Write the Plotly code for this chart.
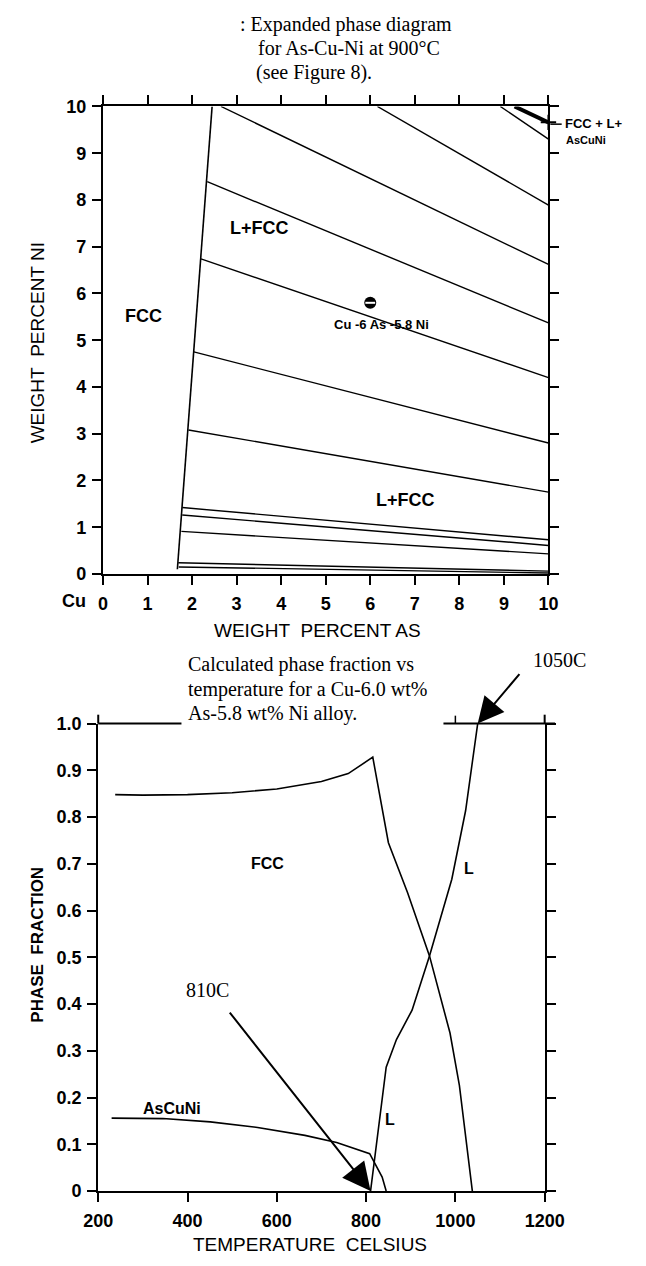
import plotly.graph_objects as go

W, H = 646, 1266

# ---------------- ternary section: As-Cu-Ni at 900 C ----------------
# FCC / L+FCC phase boundary (wt% As, wt% Ni)
boundary_as = [1.67, 2.45]
boundary_ni = [0.10, 10.0]

# tie lines: start (As, Ni) -> end (As, Ni)
tie_start_as = [2.65, 6.16, 8.92, 2.34, 2.20, 2.04, 1.92, 1.78, 1.78, 1.76, 1.69, 1.70]
tie_start_ni = [10.0, 10.0, 10.0, 8.39, 6.74, 4.75, 3.08, 1.42, 1.26, 0.91, 0.24, 0.15]
tie_end_as = [10.0] * 12
tie_end_ni = [6.62, 7.89, 9.30, 5.37, 4.20, 2.80, 1.75, 0.73, 0.61, 0.43, 0.06, 0.02]

# three-phase edge FCC + L + AsCuNi
tri_as = [9.24, 10.0]
tri_ni = [10.0, 9.66]

alloy_as, alloy_ni = [6.0], [5.8]

# ---------------- phase fraction vs temperature ----------------
fcc_t = [238, 300, 400, 500, 600, 700, 760, 815, 850, 893, 942, 988, 1009, 1023, 1038]
fcc_f = [0.848, 0.847, 0.848, 0.852, 0.860, 0.876, 0.893, 0.928, 0.745, 0.638, 0.503, 0.338, 0.226, 0.114, 0.0]

liq_t = [810, 815, 830, 845, 868, 903, 942, 967, 992, 1023, 1050]
liq_f = [0.0, 0.037, 0.156, 0.265, 0.324, 0.387, 0.503, 0.583, 0.667, 0.814, 1.0]

ascuni_t = [230, 345, 451, 557, 663, 734, 808, 822, 836, 845]
ascuni_f = [0.156, 0.155, 0.148, 0.136, 0.119, 0.104, 0.080, 0.056, 0.030, 0.0]

frac_ticks = [0, 0.1, 0.2, 0.3, 0.4, 0.5, 0.6, 0.7, 0.8, 0.9, 1.0]
frac_labels = ["0", "0.1", "0.2", "0.3", "0.4", "0.5", "0.6", "0.7", "0.8", "0.9", "1.0"]
temp_ticks = [200, 400, 600, 800, 1000, 1200]


def px(x):
    return x / W


def py(y):
    return 1 - y / H


SANS = "Liberation Sans, Arial, sans-serif"
SERIF = "Liberation Serif, Times New Roman, serif"
INK = "black"

fig = go.Figure()

# ---- top panel traces ----
fig.add_trace(go.Scatter(x=boundary_as, y=boundary_ni, mode="lines",
                         line=dict(color=INK, width=1.6), xaxis="x", yaxis="y"))
for xs, ys, xe, ye in zip(tie_start_as, tie_start_ni, tie_end_as, tie_end_ni):
    fig.add_trace(go.Scatter(x=[xs, xe], y=[ys, ye], mode="lines",
                             line=dict(color=INK, width=1.4), xaxis="x", yaxis="y"))
fig.add_trace(go.Scatter(x=tri_as, y=tri_ni, mode="lines",
                         line=dict(color=INK, width=4), xaxis="x", yaxis="y"))
fig.add_trace(go.Scatter(x=[tri_as[-1]], y=[tri_ni[-1]], mode="markers", cliponaxis=False,
                         marker=dict(symbol="cross-thin", size=11,
                                     line=dict(color=INK, width=2)),
                         xaxis="x", yaxis="y"))
fig.add_trace(go.Scatter(x=alloy_as, y=alloy_ni, mode="markers",
                         marker=dict(symbol="circle", size=12, color=INK),
                         xaxis="x", yaxis="y"))
fig.add_trace(go.Scatter(x=alloy_as, y=alloy_ni, mode="markers",
                         marker=dict(symbol="line-ew", size=7,
                                     line=dict(color="white", width=2)),
                         xaxis="x", yaxis="y"))

# ---- bottom panel traces ----
for t, f in [(fcc_t, fcc_f), (liq_t, liq_f), (ascuni_t, ascuni_f)]:
    fig.add_trace(go.Scatter(x=t, y=f, mode="lines", line=dict(color=INK, width=1.6),
                             xaxis="x2", yaxis="y2"))

axis_common = dict(showgrid=False, zeroline=False, showline=True, linecolor=INK,
                   linewidth=2, ticks="outside", tickcolor=INK, tickwidth=1.5,
                   ticklen=9, tickfont=dict(family=SANS, size=18, color=INK, weight="bold"))

fig.update_layout(
    width=W, height=H,
    margin=dict(l=0, r=0, t=0, b=0),
    paper_bgcolor="white", plot_bgcolor="white",
    showlegend=False,
    xaxis=dict(axis_common, domain=[px(93), px(564)], range=[0, 10], dtick=1,
               mirror="ticks", anchor="y", ticklabelstandoff=3),
    yaxis=dict(axis_common, domain=[py(573), py(98)], range=[0, 10], dtick=1,
               mirror="ticks", anchor="x", ticklabelstandoff=2),
    xaxis2=dict(axis_common, domain=[px(88), px(560)], range=[200, 1200],
                tickvals=temp_ticks, mirror=False, anchor="y2", ticklabelstandoff=3),
    yaxis2=dict(axis_common, domain=[py(1200), py(725)], range=[0, 1.0],
                tickvals=frac_ticks, ticktext=frac_labels, mirror="ticks", anchor="x2",
                ticklabelstandoff=2),
)

# partial top frame of the lower panel
y_top = 725
x1000 = 88 + 800 * 0.472
shapes = [
    dict(type="line", xref="paper", yref="paper", x0=px(88), x1=px(176),
         y0=py(y_top), y1=py(y_top), line=dict(color=INK, width=2)),
    dict(type="line", xref="paper", yref="paper", x0=px(453), x1=px(571),
         y0=py(y_top), y1=py(y_top), line=dict(color=INK, width=2)),
    dict(type="line", xref="paper", yref="paper", x0=px(88), x1=px(88),
         y0=py(y_top), y1=py(y_top - 9), line=dict(color=INK, width=2)),
    dict(type="line", xref="paper", yref="paper", x0=px(560), x1=px(560),
         y0=py(y_top), y1=py(y_top - 9), line=dict(color=INK, width=2)),
    dict(type="line", xref="paper", yref="paper", x0=px(x1000), x1=px(x1000),
         y0=py(y_top), y1=py(y_top - 8), line=dict(color=INK, width=1.5)),
    # leader from the three-phase marker to its label
    dict(type="line", xref="paper", yref="paper", x0=px(566), x1=px(578),
         y0=py(116), y1=py(116), line=dict(color=INK, width=1.5)),
]
fig.update_layout(shapes=shapes)

ann = []


def label(text, x, y, size, xref="paper", yref="paper", family=SANS, bold=True,
          xanchor="center", angle=0):
    ann.append(dict(text=text, x=x, y=y, xref=xref, yref=yref, showarrow=False,
                    xanchor=xanchor, yanchor="middle", textangle=angle,
                    font=dict(family=family, size=size, color=INK,
                              weight="bold" if bold else "normal")))


# titles
label(": Expanded phase diagram", px(236), py(15), 20, family=SERIF, bold=False, xanchor="left")
label("for As-Cu-Ni at 900°C", px(255), py(39), 20, family=SERIF, bold=False, xanchor="left")
label("(see Figure 8).", px(253), py(63), 20, family=SERIF, bold=False, xanchor="left")

label("Calculated phase fraction vs", px(181), py(665), 20, family=SERIF, bold=False, xanchor="left")
label("temperature for a Cu-6.0 wt%", px(181), py(690), 20, family=SERIF, bold=False, xanchor="left")
label("As-5.8 wt% Ni alloy.", px(181), py(715), 20, family=SERIF, bold=False, xanchor="left")

# axis titles
label("WEIGHT\u00a0 PERCENT AS", px(320), py(630), 19, bold=False)
label("WEIGHT\u00a0 PERCENT NI", px(24), py(338), 19, bold=False, angle=-90)
label("Cu", px(62), py(600), 18)
label("TEMPERATURE\u00a0 CELSIUS", px(312), py(1254), 19, bold=False)
label("PHASE\u00a0 FRACTION", px(24), py(950), 17, angle=-90)

# region labels, top panel
label("FCC", 0.91, 5.52, 18, xref="x", yref="y")
label("L+FCC", 3.51, 7.39, 18, xref="x", yref="y")
label("L+FCC", 6.78, 1.58, 18, xref="x", yref="y")
label("Cu -6 As -5.8 Ni", 6.26, 5.33, 13, xref="x", yref="y")
label("FCC + L+", px(579), py(115), 13, xanchor="left")
label("AsCuNi", px(580), py(132), 11, xanchor="left")

# phase labels, bottom panel
label("FCC", 579, 0.70, 16, xref="x2", yref="y2")
label("AsCuNi", 365, 0.177, 16, xref="x2", yref="y2")
label("L", 1030, 0.69, 16, xref="x2", yref="y2")
label("L", 854, 0.152, 16, xref="x2", yref="y2")

label("810C", 445, 0.43, 20, xref="x2", yref="y2", family=SERIF, bold=False)
label("1050C", px(576), py(660), 20, family=SERIF, bold=False)

# arrows
ann.append(dict(x=810, y=0.0, xref="x2", yref="y2", ax=492, ay=0.385,
                axref="x2", ayref="y2", showarrow=True, arrowhead=2, arrowsize=2.8,
                arrowwidth=2, arrowcolor=INK, text="", standoff=0))
ann.append(dict(x=1050, y=1.0, xref="x2", yref="y2", ax=43, ay=-51,
                showarrow=True, arrowhead=2, arrowsize=2.6,
                arrowwidth=2, arrowcolor=INK, text="", standoff=0))

fig.update_layout(annotations=ann)

fig.write_html("out.html")
